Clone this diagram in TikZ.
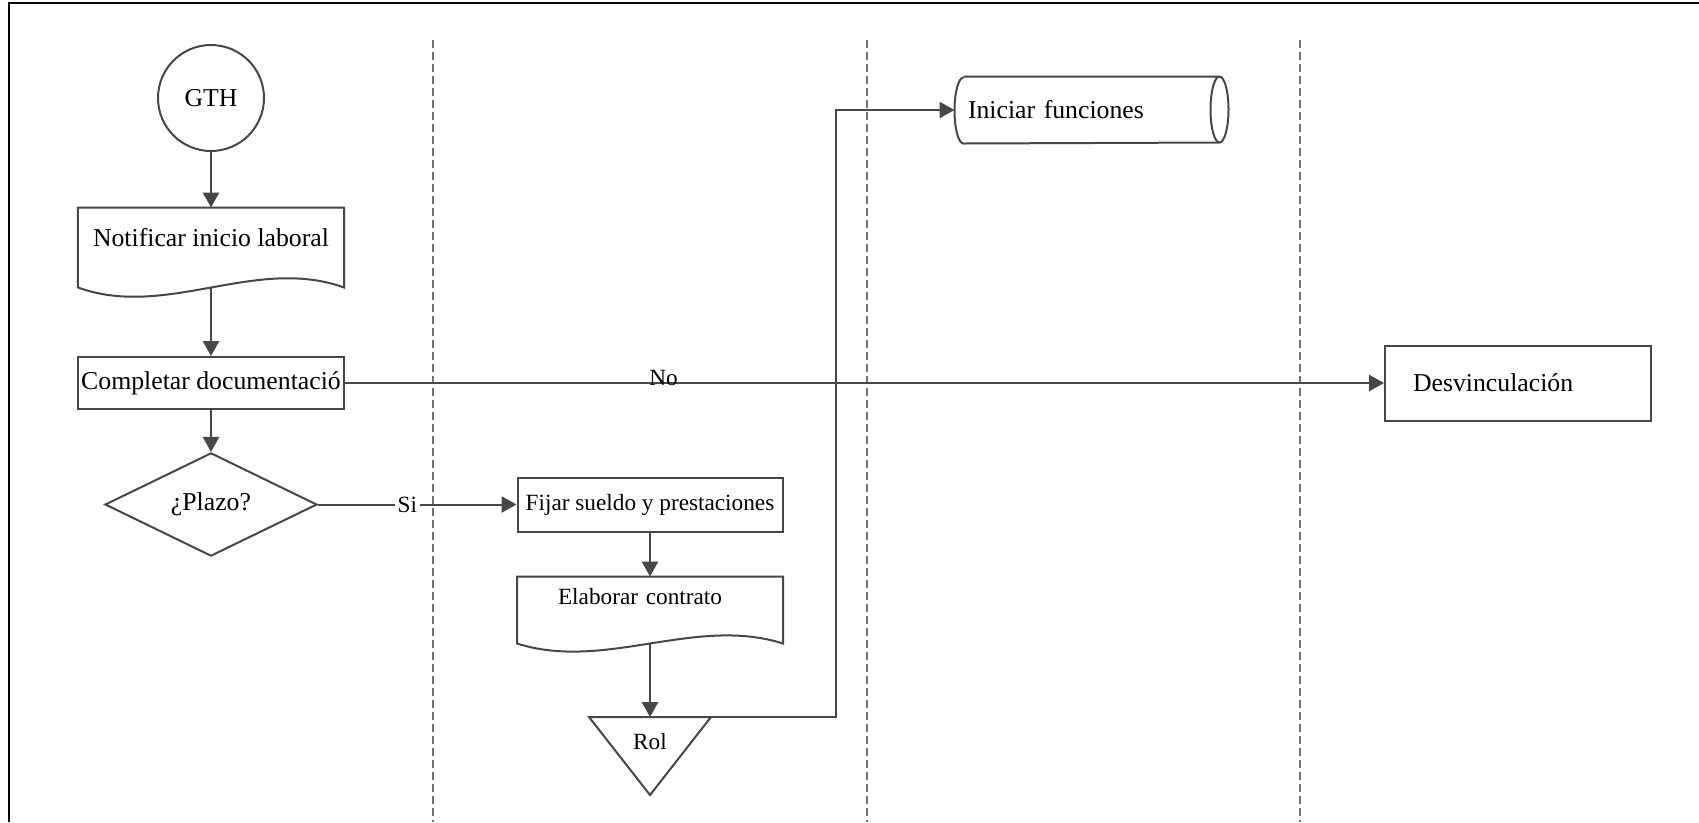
\documentclass[tikz,border=0pt]{standalone}
\usepackage{fontspec}
\setmainfont{Liberation Serif}
\usetikzlibrary{arrows.meta,shapes.geometric}

\definecolor{linea}{HTML}{474747}

\tikzset{
  caja/.style={rectangle,draw=linea,line width=0.8pt,inner sep=0pt,minimum width=106pt,minimum height=20.8pt},
  doc/.style={rectangle,inner ysep=0pt,minimum width=106pt},
  borde/.style={draw=linea,line width=0.8pt},
  flujo/.style={->,draw=linea,line width=0.8pt},
  carril/.style={draw=black!55,line width=0.6pt,dash pattern=on 3.2pt off 1.6pt},
  chico/.style={font=\fontsize{9.3}{11}\selectfont},
}

\begin{document}
\begin{tikzpicture}[x=0.4pt,y=-0.4pt,>={Triangle[length=6pt,width=6.5pt]},font=\fontsize{10.3}{12}\selectfont]
  \useasboundingbox (0,0) rectangle (1699,822);
  % marco y carriles
  \draw[line width=0.8pt] (9,822) -- (9,3) -- (1699,3);
  \foreach \x in {433,867,1300} \draw[carril] (\x,40) -- (\x,822);

  % carril 1
  \node[circle,borde,minimum size=42.4pt,inner sep=0pt] (gth) at (211,98) {GTH};
  \node[doc,text height=15.2pt,text depth=16.4pt] (notif) at (211,247.5) {Notificar inicio laboral};
  \draw[borde] (notif.north west) -- (notif.north east) -- (notif.south east)
    .. controls +(-88,-32) and +(88,32) .. (notif.south west) -- cycle;
  \node[caja] (compl) at (211,383) {Completar documentació};
  \node[diamond,borde,minimum width=84.8pt,minimum height=32pt,inner sep=0pt] (plazo) at (211,504.5) {¿Plazo?};

  % carril 2
  \node[caja,chico,minimum height=21.6pt] (fijar) at (650,504.5) {Fijar sueldo y prestaciones};
  \node[doc,chico,text height=10.8pt,text depth=15.6pt,text width=94pt,align=center] (elab) at (650,610) {\hspace*{-8pt}Elaborar contrato};
  \draw[borde] (elab.north west) -- (elab.north east) -- (elab.south east)
    .. controls +(-88,-28) and +(88,28) .. (elab.south west) -- cycle;
  \coordinate (roltop) at (650,717);
  \coordinate (rolL) at (589,717);
  \coordinate (rolR) at (711,717);
  \coordinate (rolB) at (650,795);
  \draw[borde] (rolL) -- (rolR) -- (rolB) -- cycle;
  \node[chico] (rol) at (650,742) {Rol};

  % carril 3 (cilindro)
  \node[rectangle,inner sep=0pt,minimum width=109.2pt,minimum height=26.4pt,text width=98.8pt,align=left] (inic) at (1091.5,110) {Iniciar funciones};
  \draw[borde] ([xshift=3.6pt]inic.north west) -- ([xshift=-3.6pt]inic.north east)
    arc[start angle=90,end angle=-90,x radius=3.6pt,y radius=13.2pt]
    -- ([xshift=3.6pt]inic.south west)
    arc[start angle=270,end angle=90,x radius=3.6pt,y radius=13.2pt];
  \draw[borde] ([xshift=-3.6pt]inic.north east) arc[start angle=90,end angle=270,x radius=3.6pt,y radius=13.2pt];
  \coordinate (codo) at (836,717);

  % carril 4
  \node[caja,minimum height=30pt,inner xsep=11.2pt,text width=84pt,align=left] (desv) at (1518,383) {Desvinculación};

  % conectores
  \draw[flujo] (gth.south) -- (notif.north);
  \draw[flujo] (notif.south) -- (compl.north);
  \draw[flujo] (compl.south) -- (plazo.north);
  \draw[flujo] (compl.east) -- node[chico,pos=0.307,yshift=2pt]{No} (desv.west);
  \draw[flujo] (plazo.east) -- node[chico,pos=0.45,fill=white,inner sep=1pt]{Si} (fijar.west);
  \draw[flujo] (fijar.south) -- (elab.north);
  \draw[flujo] (elab.south) -- (roltop);
  \draw[flujo] (rolR) -- (codo) |- (inic.west);
\end{tikzpicture}
\end{document}
